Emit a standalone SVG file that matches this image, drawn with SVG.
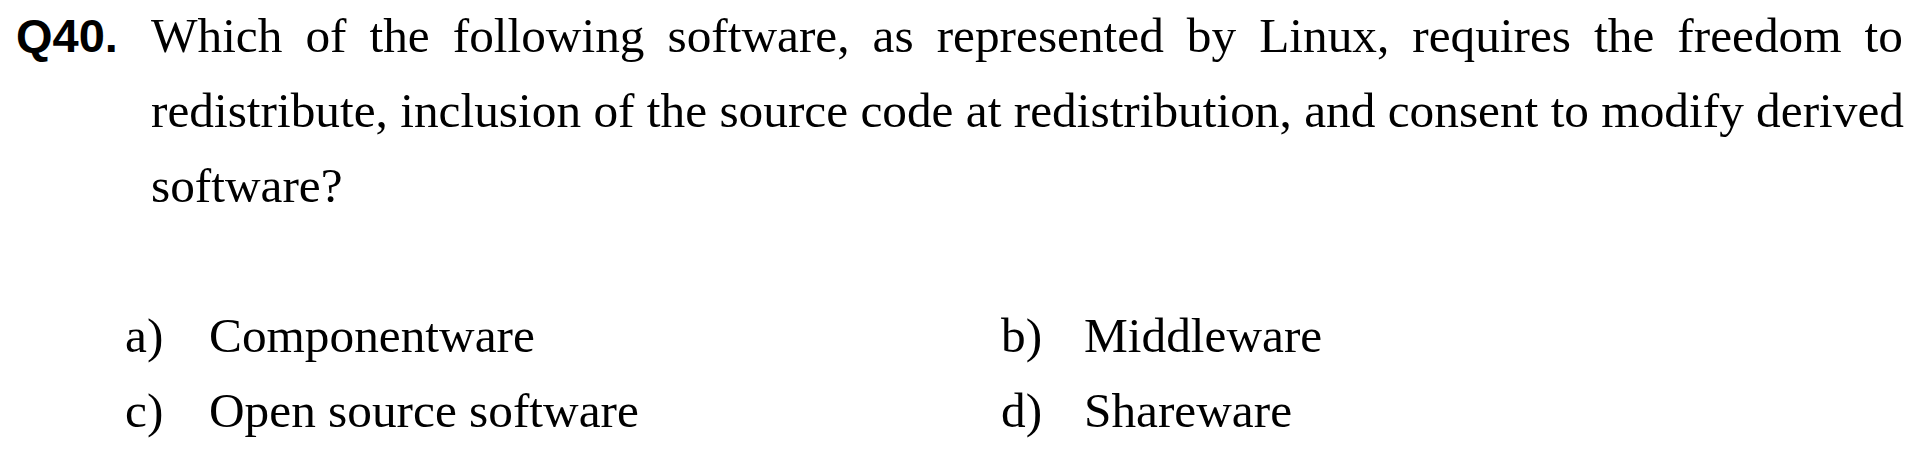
<svg xmlns="http://www.w3.org/2000/svg" width="1920" height="454" viewBox="0 0 1920 454">
<style>
.q{font-family:"Liberation Sans",Arial,sans-serif;font-weight:bold;font-size:47px;fill:#000}
.t{font-family:"Liberation Serif","Times New Roman",serif;font-size:49.3px;fill:#000}
</style>
<rect width="1920" height="454" fill="#fff"/>
<g id="question">
<text class="q" x="16" y="52">Q40.</text>
<text class="t" x="151" y="52" word-spacing="10.7">Which of the following software, as represented by Linux, requires the freedom to</text>
<text class="t" x="151" y="127" textLength="1753" lengthAdjust="spacing">redistribute, inclusion of the source code at redistribution, and consent to modify derived</text>
<text class="t" x="151" y="202">software?</text>
</g>
<g id="option-a"><text class="t" x="125" y="352">a)</text><text class="t" x="209" y="352">Componentware</text></g>
<g id="option-b"><text class="t" x="1001" y="352">b)</text><text class="t" x="1084" y="352">Middleware</text></g>
<g id="option-c"><text class="t" x="125" y="427">c)</text><text class="t" x="209" y="427">Open source software</text></g>
<g id="option-d"><text class="t" x="1001" y="427">d)</text><text class="t" x="1084" y="427">Shareware</text></g>
</svg>
